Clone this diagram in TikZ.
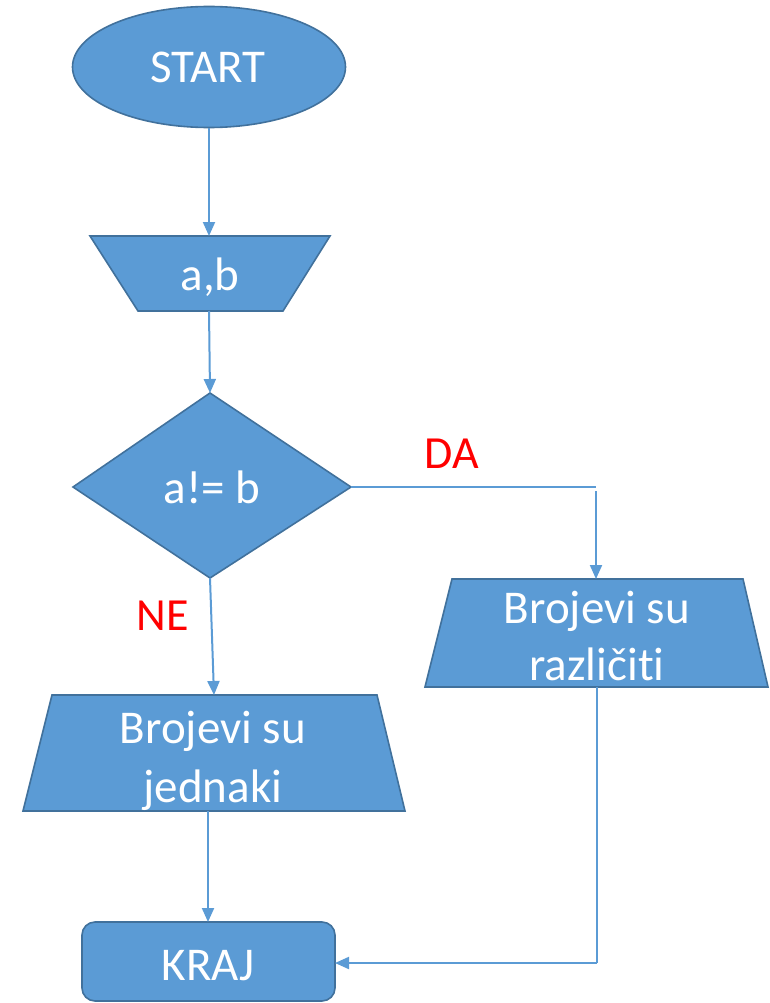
\documentclass[tikz,border=0pt]{standalone}
\usepackage{fontspec}
\setmainfont{Carlito}[Ligatures=NoCommon]
\usetikzlibrary{arrows.meta,shapes.geometric}
\definecolor{boxfill}{HTML}{5B9BD5}
\definecolor{boxline}{HTML}{41719C}
\definecolor{labred}{HTML}{FF0000}
\tikzset{
  shapebox/.style={fill=boxfill, draw=boxline, line width=1.6pt, line join=miter},
  boxtext/.style={text=white, font=\fontsize{47}{57}\selectfont, inner sep=0pt, anchor=base, align=center},
  labtext/.style={text=labred, font=\fontsize{46}{52}\selectfont, inner sep=0pt, anchor=base},
  flow/.style={draw=boxfill, line width=2pt, -{Triangle[length=14pt,width=12pt]}},
  thinflow/.style={draw=boxfill, line width=1.2pt}
}
\begin{document}
\begin{tikzpicture}[x=1pt,y=-1pt]
\useasboundingbox (0,0) rectangle (769,1003);

% start oval
\node[shapebox, ellipse, minimum width=273pt, minimum height=121pt, inner sep=0pt] (start) at (209,67) {};
\node[boxtext] (starttxt) at (208,83) {START};

% input a,b
\draw[shapebox] (90,236) coordinate (intl) -- (330,236) -- (283,311) -- (138,311) -- cycle;
\coordinate (intop) at (209,236);
\coordinate (inbot) at (209,311);
\node[boxtext] (intxt) at (210,290) {a,b};

% decision
\draw[shapebox] (210,393) coordinate (dtop) -- (351,487) coordinate (dright) -- (210,578) coordinate (dbot) -- (73,487) coordinate (dleft) -- cycle;
\node[boxtext] (dtxt) at (212,503) {a!= b};

% output: different
\draw[shapebox] (452,579) -- (743,579) -- (768,687) -- (425,687) -- cycle;
\coordinate (rtop) at (596,579);
\coordinate (rbot) at (597,687);
\node[boxtext] (rtxt1) at (597,623) {Brojevi su};
\node[boxtext] (rtxt2) at (597,680) {različiti};

% output: equal
\draw[shapebox] (52,695) -- (377,695) -- (405,811) -- (23,811) -- cycle;
\coordinate (ltop) at (214,695);
\coordinate (lbot) at (208,811);
\node[boxtext] (ltxt1) at (213,743) {Brojevi su};
\node[boxtext] (ltxt2) at (213,802) {jednaki};

% end
\draw[shapebox, rounded corners=13pt] (82,922) rectangle (335,1001);
\coordinate (endtop) at (208,922);
\coordinate (endright) at (335,963);
\node[boxtext] (endtxt) at (208,980) {KRAJ};

% branch labels
\node[labtext] (da) at (452,468) {DA};
\node[labtext] (ne) at (163,630) {NE};

% connectors
\draw[flow] (start.south) -- (intop);
\draw[flow] (inbot) -- (dtop);
\coordinate (dacorner) at (596,487);
\draw[thinflow] (dright) -- (dacorner);
\draw[flow] (596,491) -- (rtop);
\draw[flow] (dbot) -- (ltop);
\draw[flow] (lbot) -- (endtop);
\coordinate (rcorner) at (597,963);
\draw[thinflow] (rbot) -- (rcorner);
\draw[flow] (rcorner) -- (endright);
\end{tikzpicture}
\end{document}
